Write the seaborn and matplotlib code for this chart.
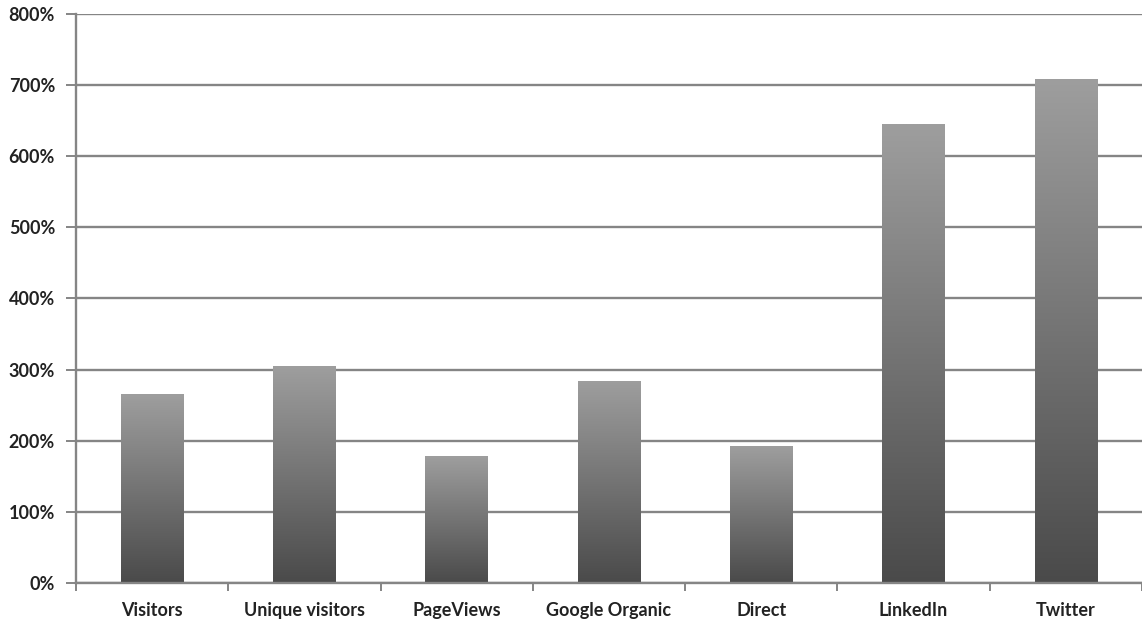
import numpy as np
import matplotlib
matplotlib.use("Agg")
import matplotlib.pyplot as plt
import seaborn as sns
import pandas as pd
from matplotlib.colors import LinearSegmentedColormap

categories = ["Visitors", "Unique visitors", "PageViews", "Google Organic", "Direct", "LinkedIn", "Twitter"]
values = [265, 305, 178, 284, 192, 645, 709]
yticks = [0, 100, 200, 300, 400, 500, 600, 700, 800]
ytick_labels = ["0%", "100%", "200%", "300%", "400%", "500%", "600%", "700%", "800%"]

sns.set_style("white")
plt.rcParams['font.family'] = ['Lato', 'DejaVu Sans']

fig = plt.figure(figsize=(11.42, 6.24), dpi=100)
ax = fig.add_axes([0.0665, 0.0657, 0.9335, 0.912])

df = pd.DataFrame({"cat": categories, "val": values})
sns.barplot(data=df, x="cat", y="val", color="#777777", width=0.41, ax=ax, saturation=1)

cmap = LinearSegmentedColormap.from_list("g", ["#4a4a4a", "#9e9e9e"])
grad = np.linspace(0, 1, 256).reshape(-1, 1)
for p in ax.patches:
    x0, y0 = p.get_x(), p.get_y()
    w, h = p.get_width(), p.get_height()
    im = ax.imshow(grad, cmap=cmap, aspect="auto", origin="lower",
                   extent=[x0, x0 + w, y0, y0 + h], zorder=p.get_zorder() + 0.1)
    im.set_clip_path(p)
    p.set_edgecolor("none")

ax.set_xlim(-0.5, 6.5)
ax.set_ylim(0, 800)
ax.set_yticks(yticks)
ax.set_yticklabels(ytick_labels)
ax.set_xlabel("")
ax.set_ylabel("")
ax.yaxis.grid(True, color="#858585", linewidth=1.7)
ax.set_axisbelow(True)
for s in ["top", "right"]:
    ax.spines[s].set_visible(False)
for s in ["left", "bottom"]:
    ax.spines[s].set_color("#858585")
    ax.spines[s].set_linewidth(1.7)

ax.set_xticks(np.arange(-0.5, 7.0, 1.0), minor=True)
ax.tick_params(axis="x", which="major", length=0, pad=14, labelsize=13, labelcolor="#222222")
ax.tick_params(axis="x", which="minor", length=6, width=1.4, color="#858585", direction="out", bottom=True)
ax.tick_params(axis="y", length=7, width=1.4, color="#858585", direction="out", left=True,
               labelsize=13, labelcolor="#222222", pad=8)
for lab in ax.get_xticklabels() + ax.get_yticklabels():
    lab.set_fontweight("bold")

fig.savefig("out.png", dpi=100, facecolor="white")
